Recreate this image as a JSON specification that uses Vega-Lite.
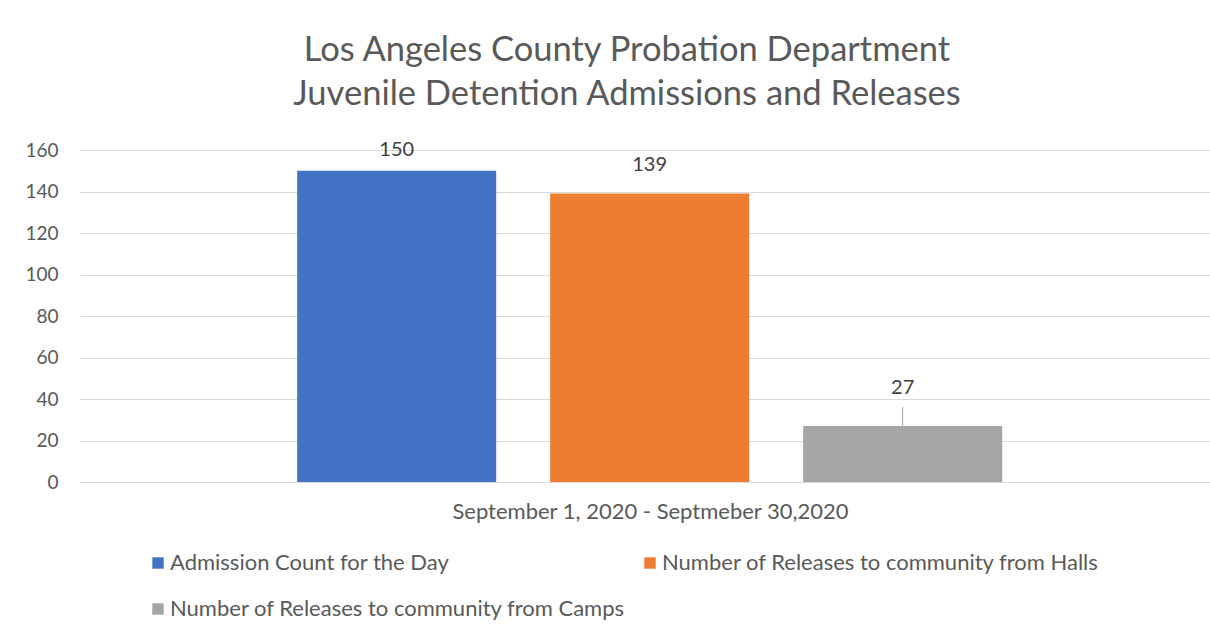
{
  "$schema": "https://vega.github.io/schema/vega-lite/v6.json",
  "width": 1130,
  "height": 332,
  "autosize": {"type": "none"},
  "padding": {"left": 80, "top": 150, "right": 0, "bottom": 156},
  "background": "white",
  "config": {"font": "Lato", "view": {"stroke": null}},
  "title": {
    "text": ["Los Angeles County Probation Department", "Juvenile Detention Admissions and Releases"],
    "fontSize": 34.5,
    "font": "Lato",
    "fontWeight": "normal",
    "color": "#595959",
    "lineHeight": 44,
    "anchor": "middle",
    "dx": -18,
    "offset": 27
  },
  "data": {
    "values": [
      {"series": "Admission Count for the Day", "count": 150},
      {"series": "Number of Releases to community from Halls", "count": 139},
      {"series": "Number of Releases to community from Camps", "count": 27}
    ]
  },
  "encoding": {
    "x": {
      "field": "series",
      "type": "nominal",
      "sort": null,
      "scale": {"paddingInner": 0.2134, "paddingOuter": 0.84, "align": 0.511},
      "axis": {
        "labels": false,
        "ticks": false,
        "domainColor": "#d9d9d9",
        "title": "September 1, 2020 - Septmeber 30,2020",
        "titleFontSize": 22,
        "titleFontWeight": "normal",
        "titleColor": "#595959",
        "titlePadding": 19,
        "titleX": 570
      }
    },
    "y": {
      "field": "count",
      "type": "quantitative",
      "scale": {"domain": [0, 160]},
      "axis": {
        "values": [0, 20, 40, 60, 80, 100, 120, 140, 160],
        "title": null,
        "domain": false,
        "ticks": false,
        "labelPadding": 22,
        "labelFontSize": 19,
        "labelColor": "#595959",
        "gridColor": "#d9d9d9"
      }
    }
  },
  "layer": [
    {
      "mark": {"type": "bar"},
      "encoding": {
        "color": {
          "field": "series",
          "type": "nominal",
          "sort": null,
          "scale": {
            "domain": ["Admission Count for the Day", "Number of Releases to community from Halls", "Number of Releases to community from Camps"],
            "range": ["#4472C4", "#ED7D31", "#A5A5A5"]
          },
          "legend": {
            "orient": "none",
            "direction": "horizontal",
            "legendX": 67,
            "legendY": 402,
            "columns": 2,
            "columnPadding": 13,
            "rowPadding": 24,
            "symbolType": "square",
            "symbolSize": 130,
            "symbolStrokeWidth": 0,
            "labelFontSize": 22,
            "labelColor": "#595959",
            "labelLimit": 800,
            "labelOffset": 1,
            "title": null,
            "padding": 0
          }
        }
      }
    },
    {
      "transform": [{"filter": "datum.series === 'Admission Count for the Day'"}],
      "mark": {"type": "text", "baseline": "middle", "dy": -21, "fontSize": 20, "color": "#404040"},
      "encoding": {"text": {"field": "count", "type": "quantitative"}}
    },
    {
      "transform": [{"filter": "datum.series === 'Number of Releases to community from Halls'"}],
      "mark": {"type": "text", "baseline": "middle", "dy": -29, "fontSize": 20, "color": "#404040"},
      "encoding": {"text": {"field": "count", "type": "quantitative"}}
    },
    {
      "transform": [{"filter": "datum.series === 'Number of Releases to community from Camps'"}],
      "mark": {"type": "text", "baseline": "middle", "dy": -38, "fontSize": 20, "color": "#404040"},
      "encoding": {"text": {"field": "count", "type": "quantitative"}}
    },
    {
      "transform": [{"filter": "datum.series === 'Number of Releases to community from Camps'"}],
      "mark": {"type": "rule", "color": "#a6a6a6", "strokeWidth": 1, "y2Offset": -19},
      "encoding": {"y2": {"field": "count"}}
    }
  ]
}
